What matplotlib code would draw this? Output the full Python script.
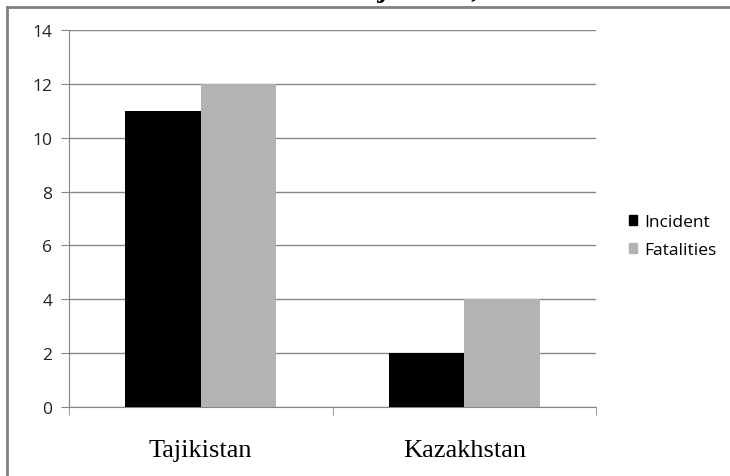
import matplotlib.pyplot as plt
import numpy as np
from matplotlib.lines import Line2D
from matplotlib.patches import Patch

# Data
countries = ['Tajikistan', 'Kazakhstan']
incident = [11, 2]
fatalities = [12, 4]
yticks = [0, 2, 4, 6, 8, 10, 12, 14]

grid_col = '#868686'
bar_w = 0.2866

fig = plt.figure(figsize=(7.3, 4.77), dpi=100)
ax = fig.add_axes([69 / 730, 1 - 408 / 477, (596 - 69) / 730, (408 - 31) / 477])

x = np.arange(len(countries))
ax.bar(x - bar_w / 2, incident, bar_w, color='black', zorder=3)
ax.bar(x + bar_w / 2, fatalities, bar_w, color='#b3b3b3', zorder=3)

ax.set_xlim(-0.5, 1.5)
ax.set_ylim(0, 14)
ax.set_yticks(yticks)
ax.yaxis.grid(True, color=grid_col, linewidth=1)
ax.set_axisbelow(True)

for s in ['top', 'right']:
    ax.spines[s].set_visible(False)
for s in ['left', 'bottom']:
    ax.spines[s].set_color(grid_col)

ax.tick_params(axis='y', length=6, color=grid_col, pad=6, labelsize=12.5)
for lbl in ax.get_yticklabels():
    lbl.set_fontfamily('Open Sans')
    lbl.set_color('#222222')

ax.set_xticks(x)
ax.set_xticklabels(countries, fontfamily='Liberation Serif', fontsize=19)
ax.tick_params(axis='x', which='major', length=0, pad=23)
ax.set_xticks([-0.5, 0.5, 1.5], minor=True)
ax.tick_params(axis='x', which='minor', length=6, color=grid_col)

handles = [Patch(color='black', label='Incident'),
           Patch(color='#b3b3b3', label='Fatalities')]
fig.legend(handles=handles, loc='center left', bbox_to_anchor=(613 / 730, 1 - 237 / 477),
           frameon=False, handlelength=0.5, handleheight=0.5, handletextpad=0.4,
           labelspacing=0.7, prop={'family': 'Open Sans', 'size': 12.5})

# chart frame and the cut-off heading above it
fig.add_artist(Line2D([7 / 730, 7 / 730], [0, 1 - 8 / 477], color='#808080', lw=2))
fig.add_artist(Line2D([7 / 730, 1], [1 - 8 / 477, 1 - 8 / 477], color='#808080', lw=2))
fig.text(346 / 730, 1 + 3 / 477, 'Tajikistan, Kazakhstan', fontfamily='Liberation Serif',
         fontweight='bold', fontsize=21, va='baseline', ha='left')

fig.savefig('out.png', dpi=100)
